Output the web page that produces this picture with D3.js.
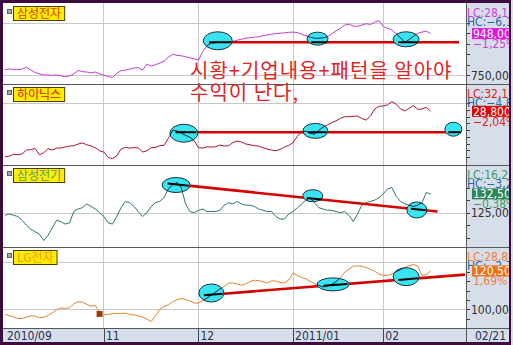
<!DOCTYPE html>
<html>
<head>
<meta charset="utf-8">
<script src="https://cdn.jsdelivr.net/npm/d3@7"></script>
<style>
  body { margin: 0; background: #fff; }
  svg { display: block; }
  .num { font-family: 'DejaVu Sans Condensed', 'DejaVu Sans', sans-serif; font-stretch: condensed; font-size: 12px; }
</style>
</head>
<body>
<svg id="chart" width="513" height="345"></svg>
<script>
'use strict';

// trading days, 2010/09 .. 2011/02/21
const monthTickDays = [0, 23, 45, 67, 88];
const monthTickLabels = ["2010/09", "11", "12", "2011/01", "02"];
const lastDateLabel = "02/21";

const stockNames = ["삼성전자", "하이닉스", "삼성전기", "LG전자"];

const samsungElec = [
  777000, 780000, 778000, 777000, 780000, 789000, 775000, 764000, 757000, 752000,
  752000, 750000, 752000, 748000, 743000, 748000, 757000, 773000, 768000, 766000,
  762000, 766000, 757000, 752000, 745000, 740000, 759000, 773000, 775000, 780000,
  785000, 787000, 775000, 803000, 794000, 801000, 808000, 817000, 836000, 850000,
  845000, 843000, 838000, 833000, 829000, 822000, 863000, 891000, 903000, 905000,
  907000, 905000, 910000, 911000, 917000, 921000, 926000, 928000, 931000, 933000,
  938000, 942000, 945000, 948000, 950000, 951000, 954000, 955000, 953000, 945000,
  938000, 931000, 926000, 926000, 928000, 933000, 947000, 961000, 973000, 988000,
  993000, 984000, 982000, 988000, 995000, 991000, 1002000, 1010000, 981000, 973000,
  965000, 947000, 928000, 907000, 919000, 935000, 949000, 955000, 960000, 948000
];

const hynix = [
  22050, 22150, 22450, 22350, 22500, 23050, 23100, 23300, 22350, 22650,
  23250, 23050, 23350, 23350, 23500, 23650, 23700, 23950, 24100, 23850,
  23650, 23400, 22950, 22750, 21950, 21800, 22200, 23200, 23450, 23350,
  23400, 23400, 22750, 22950, 23400, 23450, 23700, 23750, 24800, 26000,
  25900, 25550, 25250, 24950, 24450, 23400, 23350, 23550, 23500, 23550,
  23800, 23650, 23700, 24150, 24400, 24250, 23950, 23850, 23700, 23650,
  23400, 23200, 23050, 22950, 23150, 23500, 23750, 24150, 25100, 25750,
  25850, 25550, 25400, 26000, 26450, 26800, 27100, 27400, 27750, 28000,
  28000, 28050, 28100, 27750, 27500, 28100, 29150, 29550, 29600, 29750,
  30260, 29850, 29150, 28850, 29250, 29650, 29100, 29150, 29400, 28800
];

const samsungElectroMech = [
  124000, 124500, 124000, 123500, 122000, 120000, 118500, 117500, 116500, 114000,
  116000, 119000, 122000, 121500, 120500, 121000, 125500, 126500, 127000, 128500,
  127500, 126500, 125000, 123500, 121000, 120500, 123500, 127000, 129500, 129000,
  127500, 125500, 123500, 125000, 127500, 129000, 129500, 131000, 134500, 136000,
  137000, 135000, 128500, 125500, 125000, 126000, 126500, 125500, 125500, 125500,
  126000, 128000, 129000, 128500, 129500, 128500, 128000, 128000, 127500, 126500,
  126000, 125500, 125500, 123500, 122500, 122500, 124500, 125500, 127000, 128500,
  130000, 131000, 129000, 127000, 126500, 126000, 126000, 125500, 125000, 125500,
  124000, 121500, 124500, 128000, 129000, 129500, 130000, 131000, 132500, 134500,
  135000, 131500, 129500, 128500, 128000, 127500, 128000, 129000, 133000, 132500
];

const lgElec = [
  97300, 96700, 95900, 95100, 95100, 95800, 96500, 96500, 95500, 95800,
  96700, 98200, 99700, 100700, 100500, 100800, 102900, 104100, 103800, 102700,
  101700, 102000, 98600, 97000, 97300, 97700, 97700, 97800, 97900, 97300,
  97000, 96500, 95900, 94800, 93500, 96500, 100000, 101500, 102400, 104100,
  105200, 105700, 105300, 104500, 103400, 103300, 104700, 106000, 107600, 109200,
  110900, 112200, 114000, 114100, 113500, 112800, 113600, 114800, 115500, 115300,
  114700, 114100, 115200, 115100, 114300, 114000, 115700, 119300, 118000, 116900,
  116300, 114900, 113700, 112800, 111900, 112500, 113300, 114700, 116800, 119800,
  121400, 123000, 123200, 123000, 122300, 121300, 120300, 118700, 118200, 118100,
  118800, 120100, 121200, 122300, 123300, 123900, 123100, 118000, 118500, 120500
];

const gridValues = [[750000, 1000000], [30000], [125000], [100000, 125000]];
const axisLabelValues = [[750000], [], [125000], [100000]];

// hand-drawn annotations, in (day, price)
const trendLines = [
  { panel: 0, from: [49.5, 907000], to: [105.6, 907000] },
  { panel: 1, from: [41.6, 25700], to: [102.8, 25700] },
  { panel: 2, from: [39.8, 136250], to: [100.6, 125500] },
  { panel: 3, from: [48, 107800], to: [107, 118500] }
];
const circles = [
  { panel: 0, day: 49.5, price: 914000, rx: 14.5, ry: 9 },
  { panel: 0, day: 72.7, price: 924000, rx: 10.5, ry: 6.5 },
  { panel: 0, day: 93.3, price: 921000, rx: 13, ry: 7.5 },
  { panel: 1, day: 41.6, price: 25550, rx: 14, ry: 9 },
  { panel: 1, day: 72.2, price: 25900, rx: 12.5, ry: 7.5 },
  { panel: 1, day: 104.3, price: 26150, rx: 8.5, ry: 7 },
  { panel: 2, day: 39.8, price: 136000, rx: 14, ry: 7.5 },
  { panel: 2, day: 71.6, price: 131750, rx: 10, ry: 6 },
  { panel: 2, day: 95.8, price: 126100, rx: 10, ry: 8 },
  { panel: 3, day: 48, price: 108700, rx: 12.5, ry: 9 },
  { panel: 3, day: 76.3, price: 113300, rx: 16, ry: 6.5 },
  { panel: 3, day: 93.3, price: 117400, rx: 13, ry: 9 }
];
const signalDays = [{ panel: 3, day: 22 }];
const noteLines = ["시황+기업내용+패턴을 알아야", "수익이 난다,"];

const allSeries = [samsungElec, hynix, samsungElectroMech, lgElec];
const lineColors = ["#c43cd8", "#a8182c", "#2f7868", "#e8822c"];
const nameColors = ["#d83a1c", "#e01010", "#4ea070", "#f09a20"];
const lcColors = ["#d040d0", "#e02020", "#3c9a68", "#f08040"];
const boxColors = ["#e414e4", "#e00000", "#2e8656", "#f07014"];

const svg = d3.select("#chart");
const plotLeft = 3, plotRight = 466, axisRight = 509;
const panelTops = [3, 84, 165, 247], plotBottom = 328, barBottom = 342;
const krFont = "'Noto Sans CJK KR', sans-serif";

const fmtPrice = d3.format(",");
const fmtPct = v => d3.format(".2f")(v).replace(".", ",") + "%";

const x = d3.scaleLinear().domain([0, 107]).range([5, 465]);

// frame
svg.append("rect").attr("width", 513).attr("height", 345).attr("fill", "#e4dcee");
svg.append("rect").attr("x", 0).attr("y", 0).attr("width", 511).attr("height", 345).attr("fill", "#3c0c3c");
svg.append("rect").attr("x", plotLeft).attr("y", 3).attr("width", plotRight - plotLeft).attr("height", plotBottom - 3).attr("fill", "#fff");
svg.append("rect").attr("x", plotRight).attr("y", 3).attr("width", axisRight - plotRight).attr("height", barBottom - 3).attr("fill", "#d6deea");
svg.append("rect").attr("x", plotLeft).attr("y", plotBottom).attr("width", plotRight - plotLeft).attr("height", barBottom - plotBottom).attr("fill", "#d6deea");

const defs = svg.append("defs");
defs.append("clipPath").attr("id", "plotClip").append("rect")
  .attr("x", plotLeft).attr("y", 3).attr("width", plotRight - plotLeft).attr("height", plotBottom - 3);
defs.append("clipPath").attr("id", "axisClip").append("rect")
  .attr("x", plotRight).attr("y", 3).attr("width", axisRight - plotRight).attr("height", barBottom - 3);

// vertical grid
svg.append("g").selectAll("line").data(monthTickDays.slice(1)).join("line")
  .attr("x1", d => x(d)).attr("x2", d => x(d))
  .attr("y1", 3).attr("y2", plotBottom)
  .attr("stroke", "#c8c8c8").attr("shape-rendering", "crispEdges");

const plot = svg.append("g").attr("clip-path", "url(#plotClip)");
const axisG = svg.append("g").attr("clip-path", "url(#axisClip)");

allSeries.forEach((values, p) => {
  const top = panelTops[p];
  const bottom = panelTops[p + 1] || plotBottom;
  const y = d3.scaleLinear().domain(d3.extent(values)).range([bottom - 6.5, top + 17.5]);
  const line = d3.line().x((d, i) => x(i)).y(d => y(d));
  const g = plot.append("g");

  g.selectAll(".hgrid").data(gridValues[p]).join("line")
    .attr("x1", plotLeft).attr("x2", plotRight)
    .attr("y1", d => Math.round(y(d)) + 0.5).attr("y2", d => Math.round(y(d)) + 0.5)
    .attr("stroke", "#c8c8c8");

  g.append("path").datum(values)
    .attr("d", line).attr("fill", "none")
    .attr("stroke", lineColors[p]).attr("stroke-width", 1);

  signalDays.filter(s => s.panel === p).forEach(s => {
    g.append("rect")
      .attr("x", x(s.day) - 3).attr("y", y(values[s.day]) - 1).attr("width", 6).attr("height", 6)
      .attr("fill", "#9c3a0c");
  });

  const trend = trendLines.find(t => t.panel === p);
  const tx0 = x(trend.from[0]), ty0 = y(trend.from[1]);
  const tx1 = x(trend.to[0]), ty1 = y(trend.to[1]);
  const trendY = px => ty0 + (px - tx0) * (ty1 - ty0) / (tx1 - tx0);
  g.append("line")
    .attr("x1", tx0).attr("y1", ty0).attr("x2", tx1).attr("y2", ty1)
    .attr("stroke", "#d40000").attr("stroke-width", 2.6);

  const myCircles = circles.filter(c => c.panel === p);
  g.selectAll(".circ").data(myCircles).join("ellipse")
    .attr("cx", d => x(d.day)).attr("cy", d => y(d.price))
    .attr("rx", d => d.rx).attr("ry", d => d.ry)
    .attr("fill", "#38e4f0").attr("stroke", "#1c3040").attr("stroke-width", 1);

  const clipId = "circ" + p;
  defs.append("clipPath").attr("id", clipId).selectAll("ellipse").data(myCircles).join("ellipse")
    .attr("cx", d => x(d.day)).attr("cy", d => y(d.price))
    .attr("rx", d => d.rx).attr("ry", d => d.ry);
  g.append("path").datum(values)
    .attr("d", line).attr("fill", "none").attr("clip-path", `url(#${clipId})`)
    .attr("stroke", "#18284a").attr("stroke-width", 1);

  g.selectAll(".seg").data(myCircles).join("line")
    .attr("x1", d => x(d.day) - d.rx * 0.6).attr("x2", d => x(d.day) + d.rx * 0.9)
    .attr("y1", d => trendY(x(d.day) - d.rx * 0.6)).attr("y2", d => trendY(x(d.day) + d.rx * 0.9))
    .attr("stroke", "#000").attr("stroke-width", 2);

  // name tag
  svg.append("rect").attr("x", 7.5).attr("y", top + 6.5).attr("width", 4).attr("height", 4)
    .attr("fill", "#a8a8a8").attr("stroke", "#606060");
  const tag = svg.append("g");
  const tagText = tag.append("text").attr("x", 17).attr("y", top + 15)
    .attr("font-family", krFont).attr("font-size", 12).attr("fill", nameColors[p])
    .text(stockNames[p]);
  const tw = tagText.node().getComputedTextLength();
  tag.insert("rect", "text").attr("x", 13.5).attr("y", top + 3.5).attr("width", tw + 7).attr("height", 14)
    .attr("fill", "#ffee00").attr("stroke", "#4a4000");

  // right axis
  axisG.selectAll(null).data(y.ticks(7).filter(v => y(v) > top + 2 && y(v) < bottom - 2)).join("line")
    .attr("x1", plotRight).attr("x2", plotRight + 4)
    .attr("y1", d => Math.round(y(d)) + 0.5).attr("y2", d => Math.round(y(d)) + 0.5)
    .attr("stroke", "#404040");
  axisG.selectAll(null).data(axisLabelValues[p]).join("text")
    .attr("class", "num")
    .attr("x", plotRight + 5).attr("y", d => y(d) + 4.5)
    .attr("fill", "#303030")
    .text(d => fmtPrice(d));

  const last = values[values.length - 1];
  const prev = values[values.length - 2];
  const [lo, hi] = d3.extent(values);
  axisG.append("text").attr("class", "num").attr("x", plotRight + 1).attr("y", top + 13.5)
    .attr("fill", lcColors[p])
    .text("LC:" + fmtPct((last / lo - 1) * 100));
  axisG.append("text").attr("class", "num").attr("x", plotRight + 1).attr("y", top + 22.5)
    .attr("fill", "#2a64a8")
    .text("HC:" + fmtPct((last / hi - 1) * 100));
  const ly = y(last);
  axisG.append("rect").attr("x", plotRight + 6).attr("y", ly - 5.5).attr("width", 37).attr("height", 11)
    .attr("fill", boxColors[p]);
  axisG.append("text").attr("class", "num").attr("x", plotRight + 7).attr("y", ly + 4.5)
    .attr("fill", "#fff")
    .text(fmtPrice(last));
  axisG.append("text").attr("class", "num").attr("x", plotRight + 7).attr("y", ly + 14.5)
    .attr("fill", lcColors[p])
    .text(fmtPct((last / prev - 1) * 100));
});

// panel separators
svg.append("g").selectAll("line").data(panelTops.slice(1).concat([plotBottom])).join("line")
  .attr("x1", plotLeft).attr("x2", axisRight)
  .attr("y1", d => d + 0.5).attr("y2", d => d + 0.5)
  .attr("stroke", "#585858");
svg.append("line").attr("x1", plotRight + 0.5).attr("x2", plotRight + 0.5)
  .attr("y1", 3).attr("y2", barBottom).attr("stroke", "#585858");

// x axis bar
const xAxisG = svg.append("g");
xAxisG.selectAll("line").data(monthTickDays.slice(1)).join("line")
  .attr("x1", d => Math.round(x(d)) + 0.5).attr("x2", d => Math.round(x(d)) + 0.5)
  .attr("y1", plotBottom).attr("y2", barBottom).attr("stroke", "#404858");
xAxisG.selectAll("text").data(monthTickDays).join("text")
  .attr("class", "num")
  .attr("x", d => x(d) + 2).attr("y", barBottom - 2.5)
  .attr("fill", "#283050")
  .text((d, i) => monthTickLabels[i]);
xAxisG.append("text").attr("class", "num").attr("x", plotRight + 9).attr("y", barBottom - 2.5)
  .attr("fill", "#283050")
  .text(lastDateLabel);

// note
svg.append("g").selectAll("text").data(noteLines).join("text")
  .attr("x", 190).attr("y", (d, i) => 78 + i * 22)
  .attr("font-family", krFont).attr("font-size", 20).attr("letter-spacing", 1).attr("fill", "#e02424")
  .text(d => d);
</script>
</body>
</html>
